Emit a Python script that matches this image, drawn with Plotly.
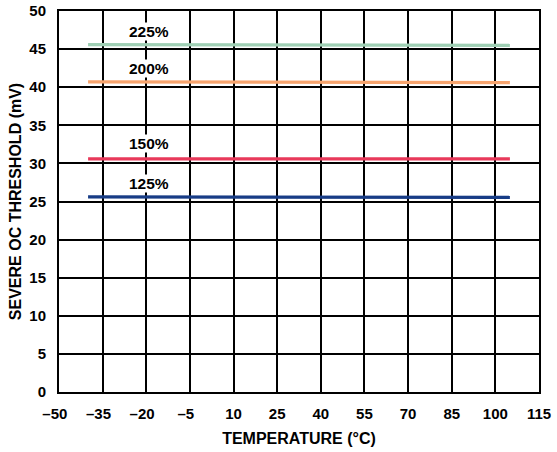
import plotly.graph_objects as go

temps = [-40, -20, 0, 25, 50, 85, 105]
s225 = [45.6, 45.6, 45.6, 45.6, 45.6, 45.55, 45.5]
s200 = [40.7, 40.7, 40.7, 40.7, 40.65, 40.65, 40.6]
s150 = [30.6, 30.6, 30.6, 30.6, 30.6, 30.6, 30.6]
s125 = [25.6, 25.6, 25.6, 25.6, 25.6, 25.6, 25.55]

series = [
    ("225%", s225, "#9fcfb4"),
    ("200%", s200, "#f7a46e"),
    ("150%", s150, "#e8395a"),
    ("125%", s125, "#173c86"),
]
label_x = -19
label_y = [47.3, 42.4, 32.6, 27.4]

xticks = [-50, -35, -20, -5, 10, 25, 40, 55, 70, 85, 100, 115]
yticks = list(range(0, 51, 5))


def xlabel(v):
    if v < 0:
        return "<b>\u2013%d<span style='color:rgba(0,0,0,0)'>\u2013</span></b>" % (-v)
    return "<b>%d</b>" % v


fig = go.Figure()
for (name, vals, col) in series:
    fig.add_trace(go.Scatter(x=temps, y=vals, mode="lines", name=name,
                             line=dict(color=col, width=3.2), showlegend=False))
for (name, vals, col), ly in zip(series, label_y):
    fig.add_annotation(x=label_x, y=ly, text="<b>" + name + "</b>", showarrow=False,
                       font=dict(size=15.5, color="#000"), bgcolor="white", borderpad=0)

font = "Liberation Sans, Arial, sans-serif"
fig.update_layout(
    template="none",
    width=557, height=452,
    margin=dict(l=59, r=18, t=11, b=60, autoexpand=False),
    paper_bgcolor="white", plot_bgcolor="white",
    font=dict(family=font, color="#000"),
    xaxis=dict(range=[-50, 115], tickmode="array", tickvals=xticks,
               ticktext=[xlabel(v) for v in xticks], automargin=False,
               showgrid=True, gridcolor="black", gridwidth=1.5,
               showline=True, linecolor="black", linewidth=2, mirror=True,
               zeroline=False, ticks="outside", ticklen=7, tickcolor="rgba(0,0,0,0)",
               tickfont=dict(size=15),
               title=dict(text="<b>TEMPERATURE (°C)</b>", font=dict(size=16), standoff=12)),
    yaxis=dict(range=[0, 50], tickmode="array", tickvals=yticks,
               ticktext=["<b>%d</b>" % v for v in yticks], automargin=False,
               showgrid=True, gridcolor="black", gridwidth=1.5,
               showline=True, linecolor="black", linewidth=2, mirror=True,
               zeroline=False, ticks="outside", ticklen=8, tickcolor="rgba(0,0,0,0)",
               tickfont=dict(size=15),
               title=dict(text="<b>SEVERE OC THRESHOLD (mV)</b>", font=dict(size=16), standoff=4)),
)
fig.write_html("out.html", config={"displayModeBar": False},
               post_script="document.body.style.margin='0';document.body.style.overflow='hidden';")
